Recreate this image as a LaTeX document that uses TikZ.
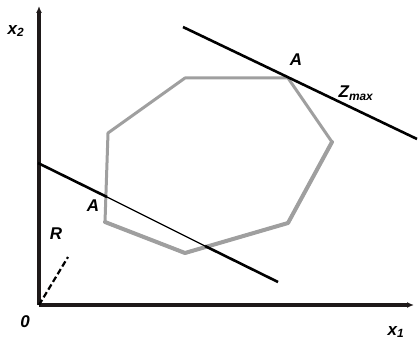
\documentclass[tikz,border=0pt]{standalone}
\usepackage{fontspec}
\setmainfont{Liberation Sans}
\usetikzlibrary{arrows.meta}
\begin{document}
\begin{tikzpicture}[x=1pt,y=-1pt,
  axis/.style={line width=3.5pt,draw={rgb,255:red,30;green,25;blue,25},-{Latex[length=7pt,width=6pt]}},
  cline/.style={line width=2.6pt,draw=black},
  thinline/.style={line width=1.2pt,draw=black},
  poly/.style={line width=3pt,draw=gray!75,line join=round},
  polythick/.style={line width=4pt,draw=gray!75,line join=round,line cap=round},
  lbl/.style={font=\bfseries\itshape\fontsize{17}{17}\selectfont,inner sep=0pt}]
\useasboundingbox (0,0) rectangle (419,342);
% axes
\coordinate (O) at (39,305);
\coordinate (Ytop) at (39,6);
\coordinate (Xend) at (414,305);
\draw[axis] (O) -- (Ytop);
\draw[axis] (O) -- (Xend);
% feasible polygon
\coordinate (P1) at (185,78);
\coordinate (P2) at (288,78);
\coordinate (P3) at (332,142);
\coordinate (P4) at (288,223);
\coordinate (P5) at (185,253);
\coordinate (P6) at (105,222);
\coordinate (P7) at (108,133);
\draw[poly] (P1) -- (P2) -- (P3) -- (P4) -- (P5) -- (P6) -- (P7) -- cycle;
\draw[polythick] (P3) -- (P4) -- (P5) -- (P6);
% top objective line
\coordinate (T1) at (183,27);
\coordinate (T2) at (417,139);
\draw[cline] (T1) -- (T2);
% lower objective line
\coordinate (L1) at (38,163);
\coordinate (La) at (107,197);
\coordinate (Lb) at (205,246);
\coordinate (L2) at (278,282);
\draw[cline] (L1) -- (La);
\draw[thinline] (La) -- (Lb);
\draw[cline] (Lb) -- (L2);
% gradient direction R
\coordinate (Rend) at (68,257);
\draw[line width=2.2pt,dash pattern=on 6pt off 3pt] (O) -- (Rend);
% labels
\node[lbl] (lx2) at (16,31) {x\textsubscript{2}};
\node[lbl] (lx1) at (396,332) {x\textsubscript{1}};
\node[lbl] (l0) at (25,322) {0};
\node[lbl] (lA) at (296,60) {A};
\node[lbl] (lZ) at (356,93) {Z\textsubscript{max}};
\node[lbl] (lA2) at (93,206) {A};
\node[lbl] (lR) at (56,234) {R};
\end{tikzpicture}
\end{document}
